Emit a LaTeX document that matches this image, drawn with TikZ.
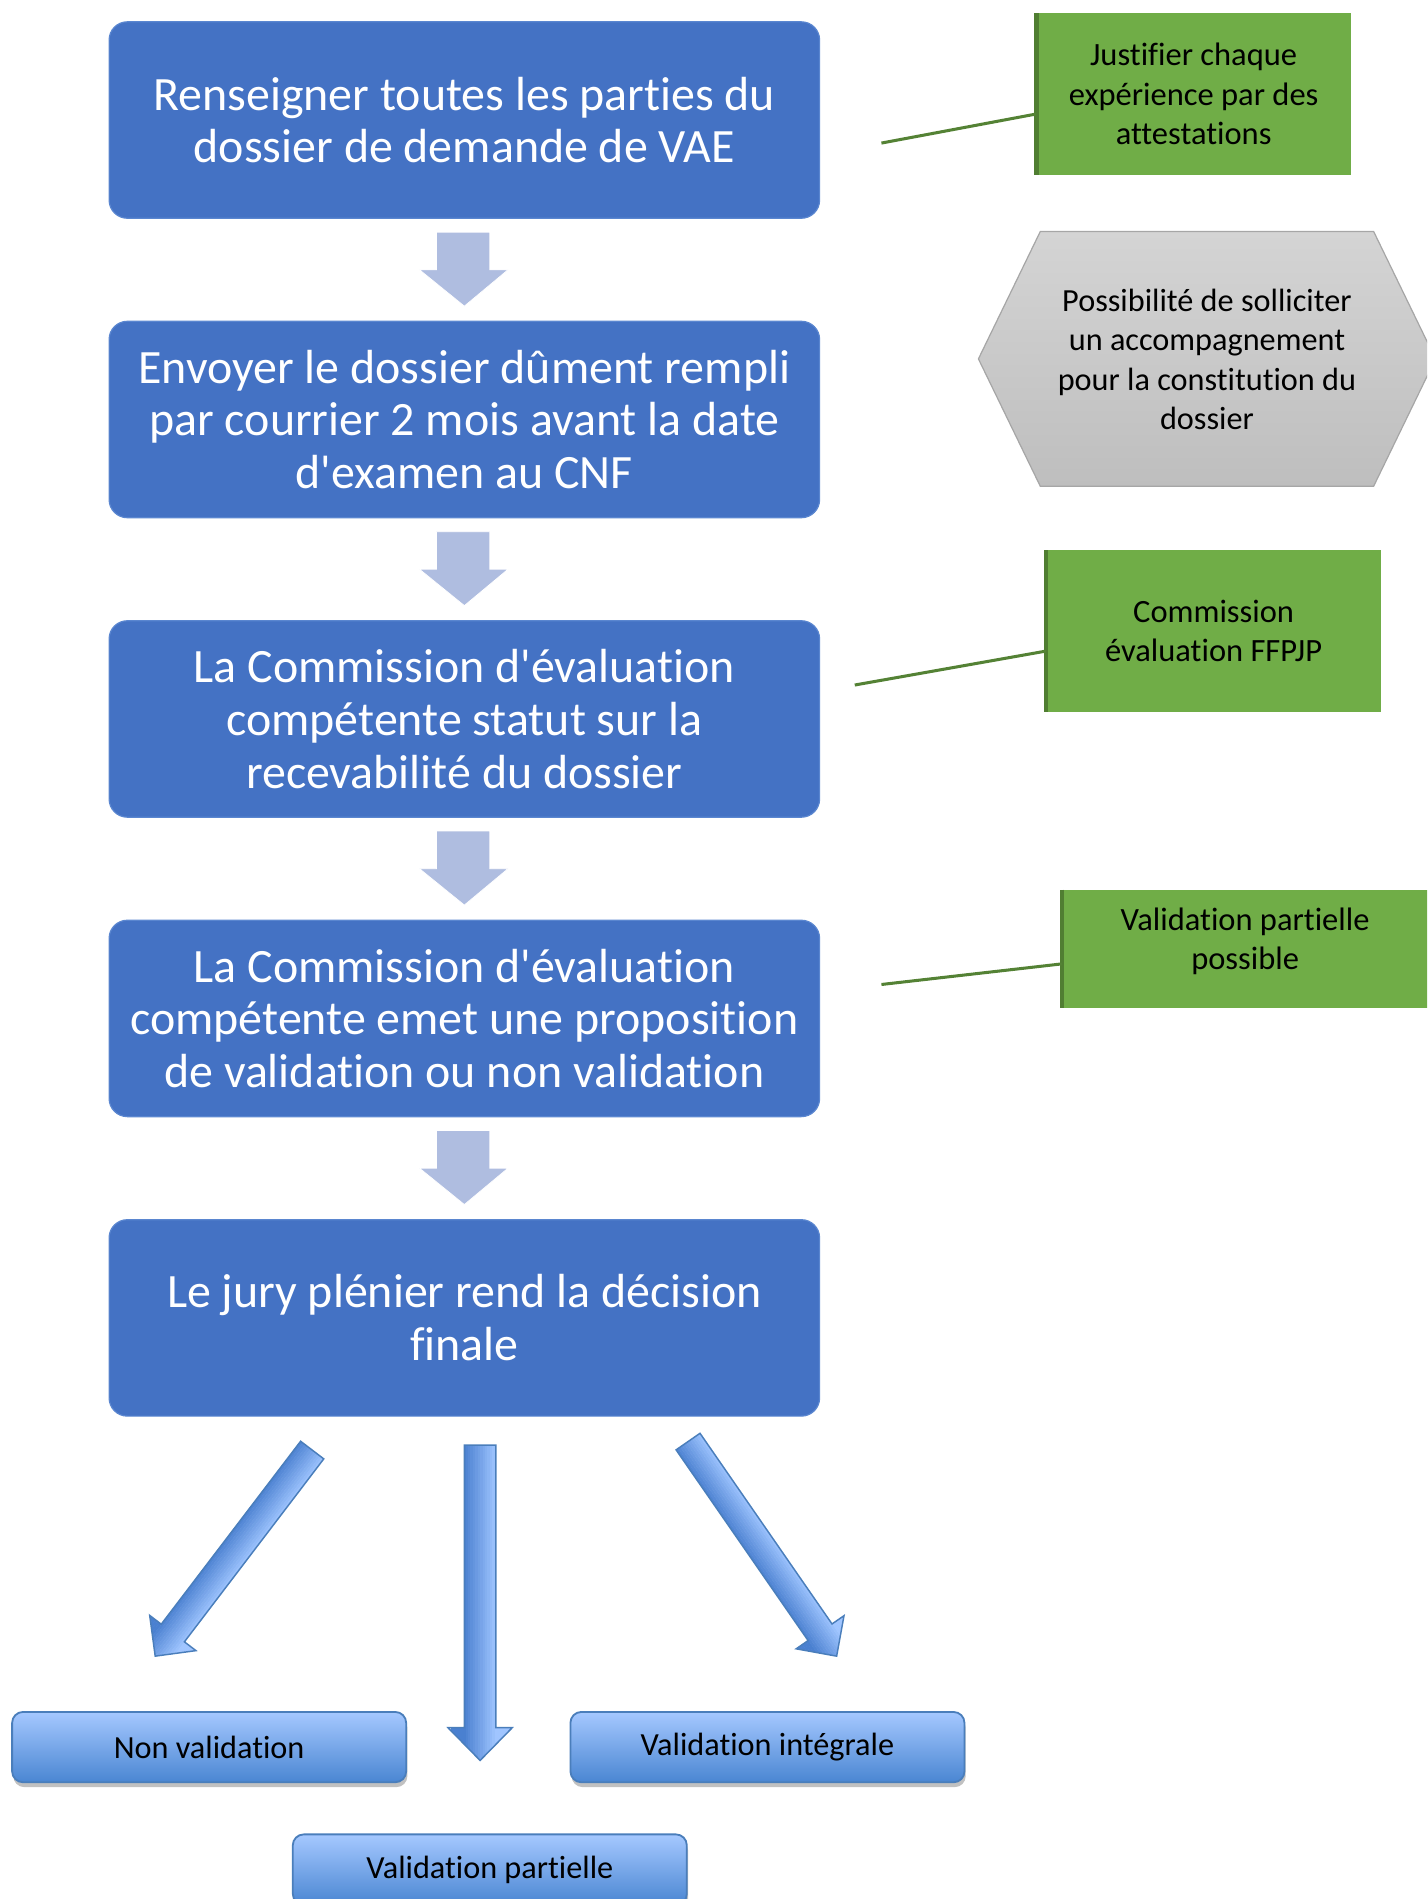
\documentclass[tikz,border=0pt]{standalone}
\usepackage{fontspec}
\setmainfont{Carlito}[Ligatures={TeXOff,CommonOff}]
\usetikzlibrary{calc,shadows}
\definecolor{mainblue}{HTML}{4472C4}
\definecolor{mainedge}{HTML}{5A86D0}
\definecolor{arrowlight}{HTML}{AFBDE0}
\definecolor{boxgreen}{HTML}{70AD47}
\definecolor{darkgreen}{HTML}{507E32}
\definecolor{linegreen}{HTML}{548235}
\definecolor{hexlight}{HTML}{D4D4D4}
\definecolor{hexdark}{HTML}{BEBEBE}
\definecolor{hexedge}{HTML}{A6A6A6}
\definecolor{reslight}{HTML}{A5C8FF}
\definecolor{resdark}{HTML}{4A86D2}
\definecolor{resedge}{HTML}{4A7EBB}
\definecolor{barlight}{HTML}{A0C5FF}
\definecolor{bardark}{HTML}{4A80D0}
\tikzset{
  mainbox/.style={rectangle, rounded corners=15pt, fill=mainblue, draw=mainedge, line width=1pt,
    minimum width=586pt, minimum height=162pt, align=center, text=white,
    font=\fontsize{39.5}{43.5}\selectfont, inner sep=0pt},
  greenbox/.style={rectangle, fill=boxgreen, align=center, text=black,
    font=\fontsize{26.8}{32.3}\selectfont, inner sep=0pt},
  greentext/.style={align=center, text=black, font=\fontsize{26.8}{32.3}\selectfont, inner sep=0pt},
  greenedge/.style={draw=darkgreen, line width=3.5pt},
  greenline/.style={draw=linegreen, line width=2.5pt},
  hexbox/.style={top color=hexlight, bottom color=hexdark, draw=hexedge, line width=1pt},
  hextext/.style={align=center, text=black, font=\fontsize{26.6}{32.4}\selectfont, inner sep=0pt},
  resultbox/.style={rectangle, rounded corners=9pt, top color=reslight, bottom color=resdark,
    draw=resedge, line width=1.5pt, minimum width=325pt, minimum height=58pt,
    font=\fontsize{26.6}{32}\selectfont, text=black, inner sep=0pt,
    drop shadow={shadow xshift=1pt, shadow yshift=-4pt, opacity=.35, fill=black!70}},
  downarrow/.style={fill=arrowlight, draw=white, line width=0.6pt},
  arrowline/.style={draw=resedge, line width=1.2pt}
}
% block arrow along local x: #1 length, #2 head base, #3 shaft half width, #4 head half width
\newcommand\gradarrow[4]{%
  \begin{scope}
    \clip (0pt,#3pt) -- (#2pt,#3pt) -- (#2pt,#4pt) -- (#1pt,0pt) -- (#2pt,-#4pt) -- (#2pt,-#3pt) -- (0pt,-#3pt) -- cycle;
    \foreach \i in {0,...,23}{
      \pgfmathtruncatemacro\c{max(0,min(100,100*(-23+2*\i+13)/26))}
      \fill[barlight!\c!bardark] (-1pt,{(-24+2*\i)*1pt}) rectangle ({#1pt+1pt},{(-21.7+2*\i)*1pt});
    }
  \end{scope}
  \draw[arrowline] (0pt,#3pt) -- (#2pt,#3pt) -- (#2pt,#4pt) -- (#1pt,0pt) -- (#2pt,-#4pt) -- (#2pt,-#3pt) -- (0pt,-#3pt) -- cycle;
}
\begin{document}
\begin{tikzpicture}[x=1pt,y=-1pt]
\useasboundingbox (0,0) rectangle (1177,1566.3);
\clip (0,0) rectangle (1177,1566.3);

% main boxes
\node[mainbox] (b1) at (383,99)  {Renseigner toutes les parties du\\dossier de demande de VAE};
\node[mainbox] (b2) at (383,346) {Envoyer le dossier dûment rempli\\par courrier 2 mois avant la date\\d'examen au CNF};
\node[mainbox] (b3) at (383,593) {La Commission d'évaluation\\compétente statut sur la\\recevabilité du dossier};
\node[mainbox] (b4) at (383,840) {La Commission d'évaluation\\compétente emet une proposition\\de validation ou non validation};
\node[mainbox] (b5) at (383,1087) {Le jury plénier rend la décision\\finale};

% light down arrows between main boxes
\foreach \a/\b in {b1/b2,b2/b3,b3/b4,b4/b5}{
  \draw[downarrow] ($(\a.south)+(-23,11)$) -- ($(\a.south)+(-23,42)$) -- ($(\a.south)+(-37,42)$)
    -- ($(\b.north)+(0,-12)$) -- ($(\a.south)+(36,42)$) -- ($(\a.south)+(21,42)$)
    -- ($(\a.south)+(21,11)$) -- cycle;
}

% green notes
\node[greenbox, minimum width=259pt, minimum height=133pt] (g1) at (984.5,77.5)
  {Justifier chaque\\expérience par des\\attestations};
\draw[greenedge] (g1.north west) -- (g1.south west);
\coordinate (c1) at (727,118);
\draw[greenline] (c1) -- ([yshift=-16.5pt]g1.west);

\node[greenbox, minimum width=276pt, minimum height=133pt] (g2) at (1001,520.5)
  {Commission\\évaluation FFPJP};
\draw[greenedge] (g2.north west) -- (g2.south west);
\coordinate (c2) at (705,565);
\draw[greenline] (c2) -- ([yshift=-16.5pt]g2.west);

\node[greenbox, minimum width=302pt, minimum height=97pt] (g3) at (1027,782.5) {};
\node[greentext] (g3t) at ([yshift=6pt]g3.center) {Validation partielle\\possible};
\draw[greenedge] (g3.north west) -- (g3.south west);
\coordinate (c3) at (727,812);
\draw[greenline] (c3) -- ([yshift=-12.5pt]g3.west);

% hexagon
\draw[hexbox] (858,191) -- (1133,191) -- (1184,296) -- (1133,401) -- (858,401) -- (807,296) -- cycle;
\node[hextext] (h) at (995.5,296.5)
  {Possibilité de solliciter\\un accompagnement\\pour la constitution du\\dossier};

% blue block arrows from the final decision
\begin{scope}[shift={(257.5,1196)}, rotate=-127.3]
  \gradarrow{213.7}{189.7}{12}{24}
\end{scope}
\begin{scope}[shift={(396,1192)}, rotate=-90]
  \gradarrow{260}{233}{13}{26.5}
\end{scope}
\begin{scope}[shift={(567.5,1189)}, rotate=-55.3]
  \gradarrow{215.3}{191.3}{12}{24}
\end{scope}

% result boxes
\node[resultbox] (r1) at (172.5,1441) {Non validation};
\node[resultbox] (r3) at (633,1441) {Validation intégrale};
\node[resultbox] (r2) at (404,1542) {Validation partielle};
\end{tikzpicture}
\end{document}
